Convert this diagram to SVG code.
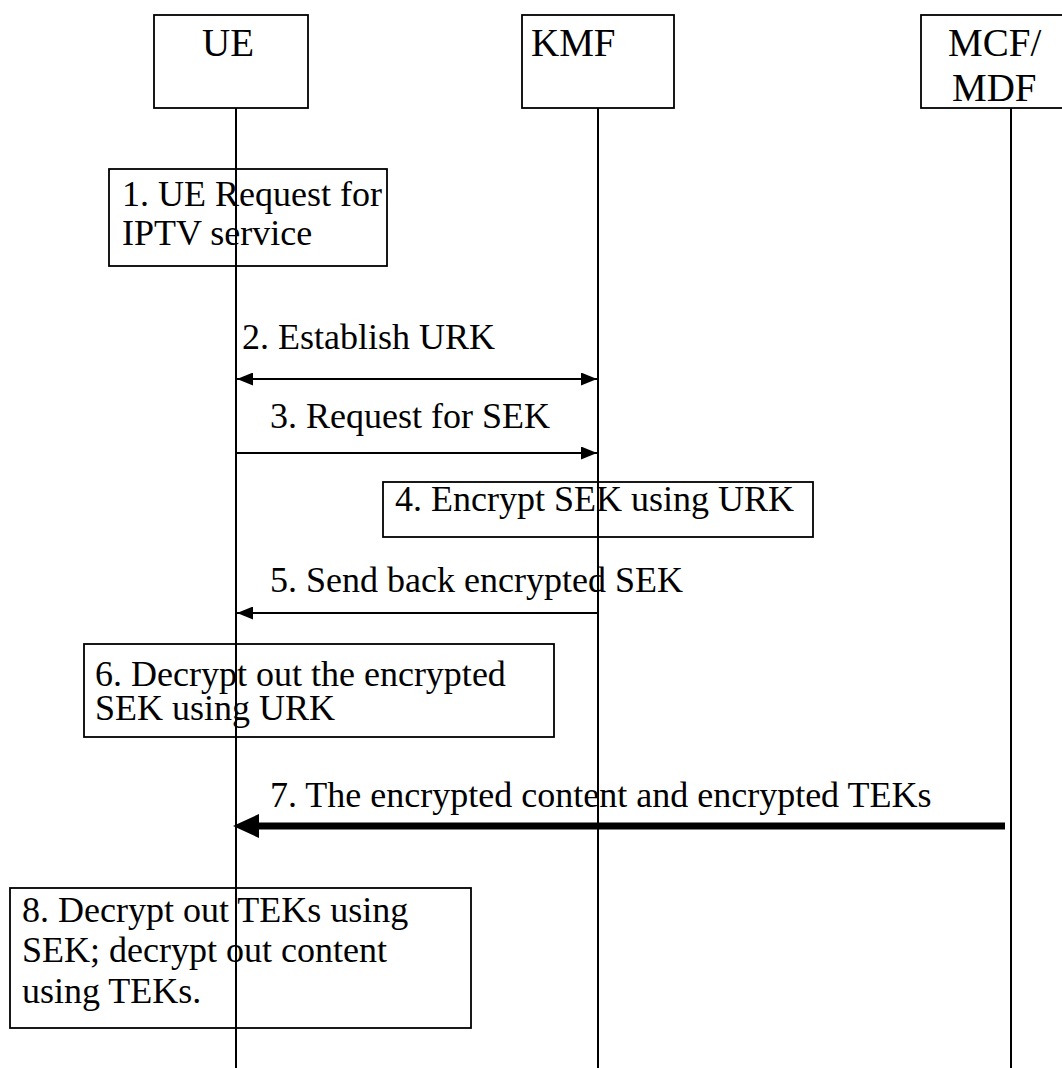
<svg xmlns="http://www.w3.org/2000/svg" width="1062" height="1068" viewBox="0 0 1062 1068">
  <style>
    text { font-family: "Liberation Serif", "Times New Roman", serif; font-size: 36px; fill: #000; }
    .hdr { font-size: 39px; }
    .box { fill: none; stroke: #000; stroke-width: 1.8; }
    .life { stroke: #000; stroke-width: 2; }
    .msg { stroke: #000; stroke-width: 2; fill: none; }
    .bold { stroke: #000; stroke-width: 7; fill: none; }
  </style>
  <defs>
    <marker id="arr" markerUnits="userSpaceOnUse" markerWidth="16" markerHeight="13" refX="16" refY="6.5" orient="auto-start-reverse">
      <path d="M0,0 L16,6.5 L0,13 z" fill="#000"/>
    </marker>
    <marker id="arrBig" markerUnits="userSpaceOnUse" markerWidth="26" markerHeight="24" refX="0" refY="12" orient="auto">
      <path d="M0,0 L26,12 L0,24 z" fill="#000"/>
    </marker>
  </defs>

  <rect width="1062" height="1068" fill="#fff"/>

  <!-- participants -->
  <g id="ue">
    <rect class="box" x="154" y="15" width="154" height="93"/>
    <text class="hdr" x="202" y="56">UE</text>
  </g>
  <g id="kmf">
    <rect class="box" x="522" y="15" width="152" height="93"/>
    <text class="hdr" x="531" y="56">KMF</text>
  </g>
  <g id="mcf">
    <rect class="box" x="921" y="15" width="154" height="93"/>
    <text class="hdr" x="948" y="56">MCF/</text>
    <text class="hdr" x="952" y="101">MDF</text>
  </g>

  <!-- processing steps -->
  <g id="step1">
    <rect class="box" x="109" y="169" width="278" height="97"/>
    <text x="122" y="206">1. UE Request for</text>
    <text x="122" y="245">IPTV service</text>
  </g>
  <g id="step4">
    <rect class="box" x="383" y="482" width="430" height="55"/>
    <text x="395" y="511">4. Encrypt SEK using URK</text>
  </g>
  <g id="step6">
    <rect class="box" x="84" y="644" width="470" height="93"/>
    <text x="95" y="686">6. Decrypt out the encrypted</text>
    <text x="95" y="720">SEK using URK</text>
  </g>
  <g id="step8">
    <rect class="box" x="10" y="888" width="461" height="140"/>
    <text x="22" y="922">8. Decrypt out TEKs using</text>
    <text x="22" y="962">SEK; decrypt out content</text>
    <text x="22" y="1003">using TEKs.</text>
  </g>

  <!-- lifelines and messages -->
  <g id="connectors">
    <line class="life" x1="236" y1="108" x2="236" y2="1068"/>
    <line class="life" x1="598" y1="108" x2="598" y2="1068"/>
    <line class="life" x1="1011" y1="108" x2="1011" y2="1068"/>

    <line class="msg" x1="237" y1="379" x2="597" y2="379" marker-start="url(#arr)" marker-end="url(#arr)"/>
    <text x="242" y="349">2. Establish URK</text>

    <line class="msg" x1="237" y1="453" x2="597" y2="453" marker-end="url(#arr)"/>
    <text x="270" y="428">3. Request for SEK</text>

    <line class="msg" x1="597" y1="613" x2="237" y2="613" marker-end="url(#arr)"/>
    <text x="270" y="592">5. Send back encrypted SEK</text>

    <line class="bold" x1="1005" y1="826" x2="259" y2="826" marker-end="url(#arrBig)"/>
    <text x="270" y="807">7. The encrypted content and encrypted TEKs</text>
  </g>
</svg>
